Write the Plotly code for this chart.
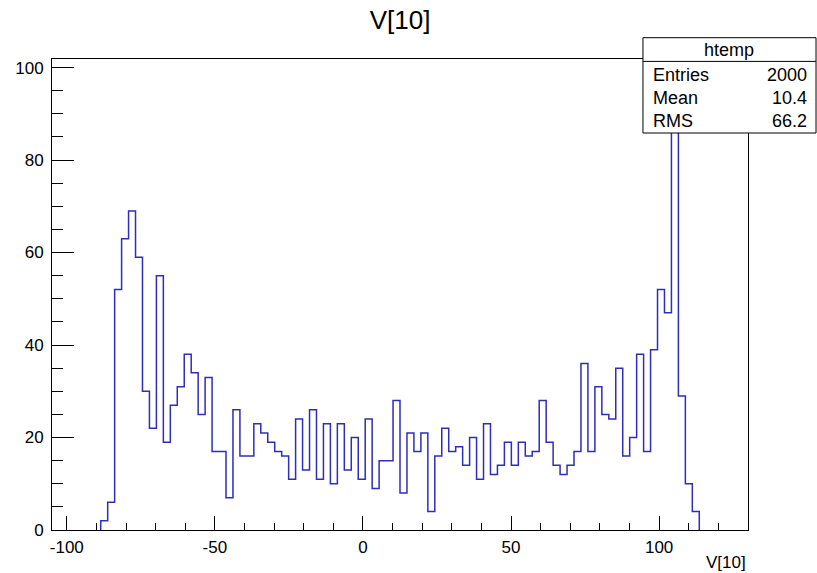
import plotly.graph_objects as go

# ---- data ----
x_min = -105.0
x_max = 130.0
n_bins = 100
counts = [
    0, 0, 0, 0, 0, 0, 0, 2, 6, 52,
    63, 69, 59, 30, 22, 55, 19, 27, 31, 38,
    34, 25, 33, 17, 17, 7, 26, 16, 16, 23,
    21, 19, 17, 16, 11, 24, 13, 26, 11, 23,
    10, 23, 13, 20, 11, 24, 9, 15, 15, 28,
    8, 21, 17, 21, 4, 16, 22, 17, 18, 14,
    20, 11, 23, 12, 14, 19, 14, 19, 16, 17,
    28, 19, 14, 12, 14, 17, 36, 17, 31, 25,
    24, 35, 16, 20, 38, 17, 39, 52, 47, 97,
    29, 10, 4, 0, 0, 0, 0, 0, 0, 0,
]
title_text = "V[10]"
xaxis_label = "V[10]"
stats_name = "htemp"
stats_labels = ["Entries", "Mean", "RMS"]
stats_values = ["2000", "10.4", "66.2"]
x_tickvals = [-100, -50, 0, 50, 100]
x_ticktext = ["-100", "-50", "0", "50", "100"]
y_tickvals = [0, 20, 40, 60, 80, 100]
y_ticktext = ["0", "20", "40", "60", "80", "100"]

# ---- build step outline from bins (zero bins lie on the axis) ----
bw = (x_max - x_min) / n_bins
edges = [x_min + i * bw for i in range(n_bins + 1)]
nz = [i for i, c in enumerate(counts) if c > 0]
i0, i1 = nz[0], nz[-1]
xs = [edges[i0]] + edges[i0:i1 + 2] + [edges[i1 + 1]]
ys = [0] + counts[i0:i1 + 1] + [counts[i1], 0]
y_top = 1.05 * max(counts)

W, H = 817, 573
L, R, T, B = 52.3, 748.0, 59.3, 530.3


def px(x):
    return (x - L) / (R - L)


def py(y):
    return (B - y) / (B - T)


FONT = "Liberation Sans, Arial, sans-serif"

fig = go.Figure()
fig.add_trace(go.Scatter(
    x=xs, y=ys, mode="lines", line_shape="hv",
    line=dict(color="#2e2eb8", width=1.5), hoverinfo="skip", showlegend=False,
))

fig.update_layout(
    width=W, height=H,
    margin=dict(l=L, r=W - R, t=T, b=H - B, pad=0),
    paper_bgcolor="white", plot_bgcolor="white",
    font=dict(family=FONT, size=17, color="black"),
    title=dict(text=title_text, x=400 / W, y=1 - 20 / H, xanchor="center",
               yanchor="middle", font=dict(size=26, family=FONT)),
    showlegend=False,
)
fig.update_xaxes(
    range=[x_min, x_max], showgrid=False, zeroline=False,
    showline=True, linecolor="black", linewidth=1, mirror=True,
    tickmode="array", tickvals=x_tickvals, ticktext=x_ticktext,
    ticks="inside", ticklen=14, tickcolor="black", tickwidth=1,
    minor=dict(ticks="inside", ticklen=7, dtick=10, tick0=0, tickcolor="black", showgrid=False),
    tickfont=dict(size=17), ticklabelstandoff=2,
)
fig.update_yaxes(
    range=[0, y_top], showgrid=False, zeroline=False,
    showline=True, linecolor="black", linewidth=1, mirror=True,
    tickmode="array", tickvals=y_tickvals, ticktext=y_ticktext,
    ticks="inside", ticklen=22, tickcolor="black", tickwidth=1,
    minor=dict(ticks="inside", ticklen=11, dtick=5, tick0=0, tickcolor="black", showgrid=False),
    tickfont=dict(size=17), ticklabelstandoff=4,
)

# x-axis title at right end
fig.add_annotation(text=xaxis_label, xref="paper", yref="paper", x=1.0, y=py(563),
                   xanchor="right", yanchor="middle", showarrow=False,
                   font=dict(size=17, family=FONT))

# stats box
bx0, bx1, by0, by1, bhead = 643, 816, 38, 133.3, 61.7
fig.add_shape(type="rect", xref="paper", yref="paper",
              x0=px(bx0), x1=px(bx1), y0=py(by1), y1=py(by0),
              line=dict(color="black", width=1), fillcolor="white", layer="above")
fig.add_shape(type="line", xref="paper", yref="paper",
              x0=px(bx0), x1=px(bx1), y0=py(bhead), y1=py(bhead),
              line=dict(color="black", width=1), layer="above")
fig.add_annotation(text=stats_name, xref="paper", yref="paper",
                   x=px((bx0 + bx1) / 2), y=py(50), xanchor="center", yanchor="middle",
                   showarrow=False, font=dict(size=18, family=FONT))
row_y = [75, 98.3, 121]
for lab, val, yy in zip(stats_labels, stats_values, row_y):
    fig.add_annotation(text=lab, xref="paper", yref="paper", x=px(651), y=py(yy),
                       xanchor="left", yanchor="middle", showarrow=False,
                       font=dict(size=18, family=FONT))
    fig.add_annotation(text=val, xref="paper", yref="paper", x=px(809), y=py(yy),
                       xanchor="right", yanchor="middle", showarrow=False,
                       font=dict(size=18, family=FONT))

fig.write_html("out.html", config={"displayModeBar": False, "staticPlot": True},
               post_script="document.body.style.margin='0';document.body.style.overflow='hidden';")
